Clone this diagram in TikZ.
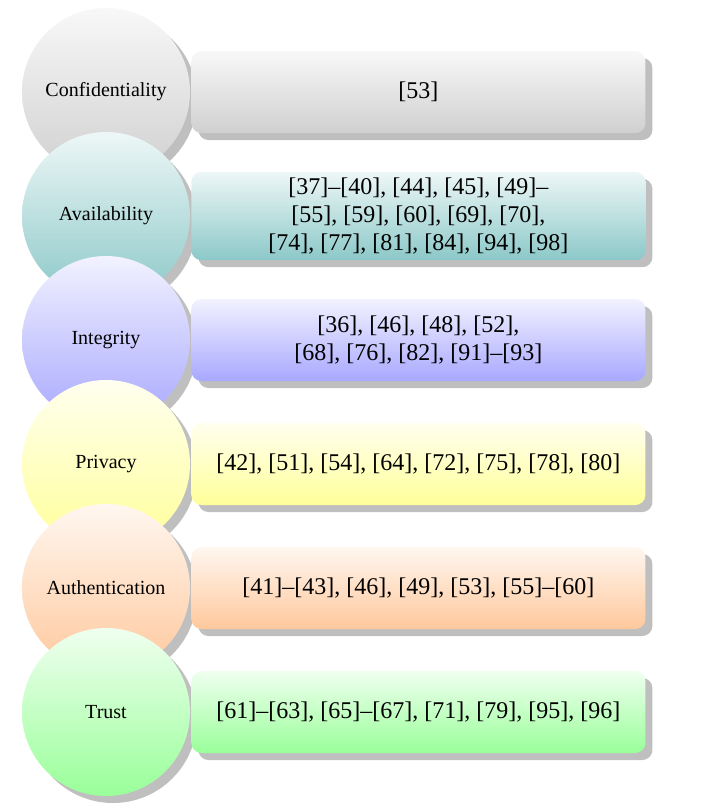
\documentclass[tikz,border=0pt]{standalone}
\usepackage{fontspec}
\setmainfont{Liberation Serif}
\usetikzlibrary{shapes.geometric, shadows, positioning}

\definecolor{confcol}{HTML}{D0D0D0}
\definecolor{availcol}{HTML}{8CC8C8}
\definecolor{integcol}{HTML}{A8A8FF}
\definecolor{privcol}{HTML}{FFFF99}
\definecolor{authcol}{HTML}{FFC89C}
\definecolor{trustcol}{HTML}{99FF99}

\begin{document}
\begin{tikzpicture}[
    node distance=-22pt and 0.5pt,
    shade/.style={drop shadow={shadow xshift=3.5pt, shadow yshift=-3.5pt, fill=black!25, opacity=1}},
    topic/.style={circle, shade, minimum size=84pt, inner sep=0pt, outer sep=0pt, font=\normalsize,
        top color=#1!15, bottom color=#1},
    refs/.style={rectangle, shade, rounded corners=5pt, minimum width=227pt, minimum height=41pt,
        inner sep=3pt, align=center, font=\large, top color=#1!15, bottom color=#1}
]
\useasboundingbox (0,0) rectangle (354pt,-405.5pt);

\node[topic=confcol] (conf) at (53pt,-46pt) {Confidentiality};
\node[refs=confcol, right=of conf] (conf_refs) {[53]};

\node[topic=availcol, below=of conf] (avail) {Availability};
\node[refs=availcol, right=of avail] (avail_refs) {[37]--[40], [44], [45], [49]--\\
    {[55]}, [59], [60], [69], [70],\\ {[74]}, [77], [81], [84], [94], [98]};

\node[topic=integcol, below=of avail] (integ) {Integrity};
\node[refs=integcol, right=of integ] (integ_refs) {[36], [46], [48], [52],\\
    {[68]}, [76], [82], [91]--[93]};

\node[topic=privcol, below=of integ] (priv) {Privacy};
\node[refs=privcol, right=of priv] (priv_refs) {[42], [51], [54], [64], [72], [75], [78], [80]};

\node[topic=authcol, below=of priv] (auth) {Authentication};
\node[refs=authcol, right=of auth] (auth_refs) {[41]--[43], [46], [49], [53], [55]--[60]};

\node[topic=trustcol, below=of auth] (trust) {Trust};
\node[refs=trustcol, right=of trust] (trust_refs) {[61]--[63], [65]--[67], [71], [79], [95], [96]};

\end{tikzpicture}
\end{document}
